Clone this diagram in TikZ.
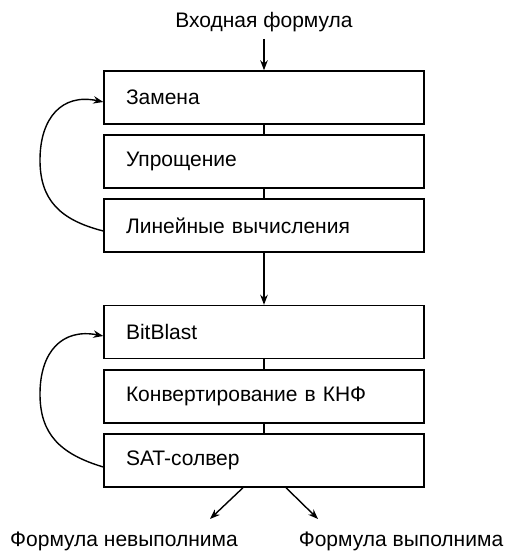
\documentclass[tikz,border=0pt]{standalone}
\usepackage{fontspec}
\setmainfont{Liberation Sans}
\usetikzlibrary{arrows.meta,calc}
\begin{document}
\begin{tikzpicture}[x=1pt,y=-1pt,
  font=\fontsize{21}{25}\selectfont,
  stage/.style={draw,line width=1.4pt,rectangle,minimum width=320pt,minimum height=53pt,
    text width=276pt,inner xsep=22pt,inner ysep=0pt,align=left},
  link/.style={line width=1.4pt},
  feed/.style={line width=2.3pt,-{Stealth[length=10pt,width=7.5pt]}},
  loop/.style={line width=1.4pt,-{Stealth[length=10pt,width=7.5pt]}},
  outarr/.style={line width=1.4pt,-{Stealth[length=10pt,width=7.5pt]}},
  label/.style={inner sep=0pt}]
\useasboundingbox (0,0) rectangle (506,553);
% input label
\node[label] (in) at (264,22) {Входная формула};
% first group
\node[stage] (sub) at (264,97.5) {Замена};
\node[stage] (simp) at (264,161.5) {Упрощение};
\node[stage] (lin) at (264,225.5) {Линейные вычисления};
% second group
\node[stage] (bb) at (264,332) {BitBlast};
\node[stage] (cnf) at (264,396.5) {Конвертирование в КНФ};
\node[stage] (sat) at (264,460.5) {SAT-солвер};
% outcome labels
\node[label] (unsat) at (124,541) {Формула невыполнима};
\node[label] (issat) at (401,541) {Формула выполнима};
% input arrow
\coordinate (inbot) at (264,39);
\draw[feed] (inbot) -- (sub.north);
\draw[link] (sub) -- (simp);
\draw[link] (simp) -- (lin);
\draw[feed] (lin.south) -- (bb.north);
\draw[link] (bb) -- (cnf);
\draw[link] (cnf) -- (sat);
% feedback loops
\draw[loop] ([yshift=-5.5pt]lin.west) .. controls (60,220) and (40,200) .. (40,160)
  .. controls (40,118) and (62,93) .. ([yshift=-4.5pt]sub.west);
\draw[loop] ([yshift=-6.5pt]sat.west) .. controls (60,454) and (40,434) .. (40,394)
  .. controls (40,352) and (62,328) .. ([yshift=-4pt]bb.west);
% outcome arrows
\coordinate (ua) at (210,519);
\coordinate (sa) at (318,519);
\draw[outarr] ([xshift=-21pt]sat.south) -- (ua);
\draw[outarr] ([xshift=22pt]sat.south) -- (sa);
\end{tikzpicture}
\end{document}
